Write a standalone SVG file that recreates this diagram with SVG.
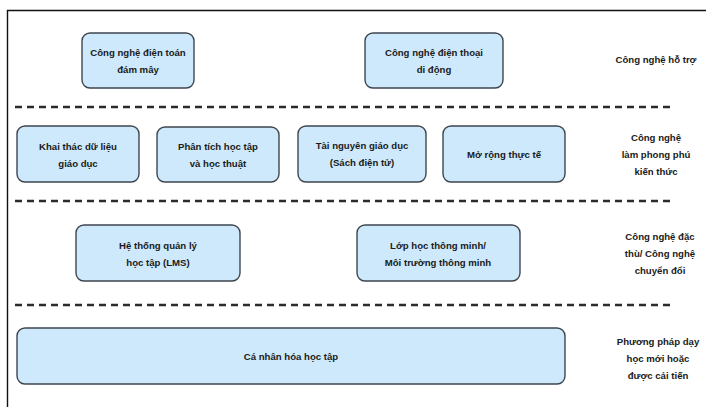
<svg xmlns="http://www.w3.org/2000/svg" width="706" height="407" viewBox="0 0 706 407">
<style>
.box{fill:#cde9fb;stroke:#3e4650;stroke-width:1.4}
.t{font-family:"Liberation Sans",Arial,sans-serif;font-size:9.6px;font-weight:bold;fill:#1a1a1a;text-anchor:middle}
.dash{stroke:#2b2b2b;stroke-width:2.4;stroke-dasharray:7 5;fill:none}
</style>
<rect x="0" y="0" width="706" height="407" fill="#ffffff"/>
<path d="M7.5 407 V10.5 H706" fill="none" stroke="#111" stroke-width="1.4"/>
<g id="separators">
<line class="dash" x1="15" y1="107" x2="672" y2="107"/>
<line class="dash" x1="15" y1="201" x2="672" y2="201"/>
<line class="dash" x1="15" y1="305" x2="672" y2="305"/>
</g>
<g id="n1"><rect class="box" x="82" y="33" width="112" height="55" rx="8"/><text class="t" x="138" y="56">Công nghệ điện toán</text><text class="t" x="138" y="73">đám mây</text></g>
<g id="n2"><rect class="box" x="365" y="33" width="138" height="55" rx="8"/><text class="t" x="434" y="56">Công nghệ điện thoại</text><text class="t" x="434" y="73">di động</text></g>
<g id="n3"><rect class="box" x="17" y="126" width="122" height="56" rx="8"/><text class="t" x="78" y="150">Khai thác dữ liệu</text><text class="t" x="78" y="167">giáo dục</text></g>
<g id="n4"><rect class="box" x="157" y="127" width="122" height="55" rx="8"/><text class="t" x="218" y="150">Phân tích học tập</text><text class="t" x="218" y="167">và học thuật</text></g>
<g id="n5"><rect class="box" x="298" y="126" width="128" height="56" rx="8"/><text class="t" x="362" y="149">Tài nguyên giáo dục</text><text class="t" x="362" y="166">(Sách điện tử)</text></g>
<g id="n6"><rect class="box" x="443" y="126" width="122" height="56" rx="8"/><text class="t" x="504" y="158">Mở rộng thực tế</text></g>
<g id="n7"><rect class="box" x="76" y="225" width="164" height="56" rx="8"/><text class="t" x="158" y="249">Hệ thống quản lý</text><text class="t" x="158" y="266">học tập (LMS)</text></g>
<g id="n8"><rect class="box" x="357" y="225" width="163" height="56" rx="8"/><text class="t" x="438" y="249">Lớp học thông minh/</text><text class="t" x="438" y="266">Môi trường thông minh</text></g>
<g id="n9"><rect class="box" x="17" y="328" width="548" height="56" rx="8"/><text class="t" x="291" y="360">Cá nhân hóa học tập</text></g>
<g id="labels">
<text class="t" x="656" y="63">Công nghệ hỗ trợ</text>
<text class="t" x="656" y="141">Công nghệ</text>
<text class="t" x="656" y="158">làm phong phú</text>
<text class="t" x="656" y="175">kiến thức</text>
<text class="t" x="660" y="240">Công nghệ đặc</text>
<text class="t" x="660" y="257">thù/ Công nghệ</text>
<text class="t" x="660" y="274">chuyển đổi</text>
<text class="t" x="658" y="345">Phương pháp dạy</text>
<text class="t" x="658" y="362">học mới hoặc</text>
<text class="t" x="658" y="379">được cải tiến</text>
</g>
</svg>
